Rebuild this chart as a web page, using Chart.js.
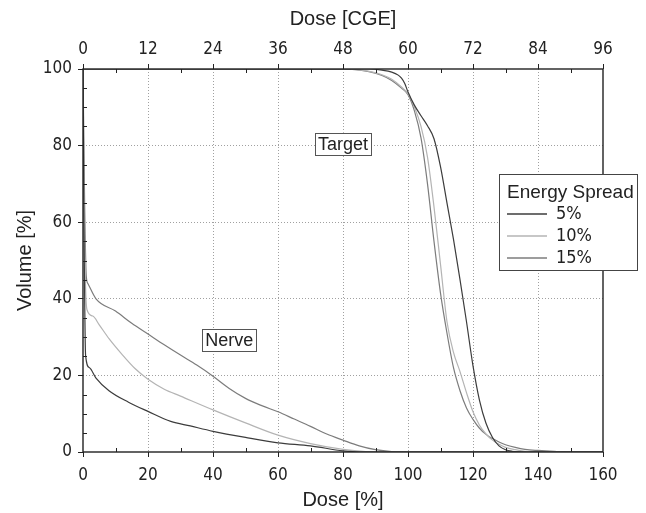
<!DOCTYPE html>
<html>
<head>
<meta charset="utf-8">
<script src="https://cdn.jsdelivr.net/npm/chart.js@4.4.0/dist/chart.umd.min.js"></script>
<style>
    html, body { margin: 0; padding: 0; background: #fff; }
</style>
</head>
<body>
<canvas id="myChart" width="646" height="513"></canvas>
<script>
// Dose [%] / Volume [%]
const targetDose5 = [0, 80, 88, 92, 95, 97, 98, 99, 100, 102, 104, 106, 108, 110, 112, 114, 116, 118, 120, 122, 124, 126, 128, 130, 132, 135, 160];
const targetVol5  = [100, 100, 100, 99.7, 99.2, 98.4, 97.6, 96.2, 94, 90.5, 87.8, 85.2, 81.8, 74.5, 65, 55.5, 45, 34, 22.5, 13.5, 7.5, 3.8, 1.6, 0.6, 0.2, 0, 0];

const targetDose10 = [0, 80, 84, 88, 92, 95, 98, 100, 102, 104, 106, 108, 110, 112, 114, 116, 118, 120, 122, 124, 126, 128, 130, 133, 136, 140, 160];
const targetVol10  = [100, 100, 99.8, 99.4, 98.5, 97.3, 95.3, 93.5, 90, 85, 77, 64, 49, 34, 26, 21, 15.5, 10.5, 7, 4.7, 3.1, 2, 1.2, 0.6, 0.2, 0, 0];

const targetDose15 = [0, 80, 84, 88, 92, 95, 98, 100, 102, 104, 106, 108, 110, 112, 114, 116, 118, 120, 122, 124, 126, 128, 130, 133, 136, 140, 145, 150, 160];
const targetVol15  = [100, 100, 99.8, 99.3, 98.3, 97, 95, 93.3, 89, 82, 70, 55, 41.5, 31, 22, 16, 11.5, 8.5, 6.2, 4.6, 3.5, 2.6, 1.9, 1.2, 0.7, 0.4, 0.15, 0, 0];

const nerveDose5 = [0, 0.3, 0.8, 2, 4, 8, 14, 20, 27, 33, 40, 50, 60, 70, 80, 85, 160];
const nerveVol5  = [100, 60, 25.2, 22, 19.3, 16, 13, 10.6, 8, 6.8, 5.4, 3.8, 2.4, 1.6, 0.3, 0, 0];

const nerveDose10 = [0, 0.5, 1.2, 3, 5, 8, 12, 16, 20, 25, 30, 40, 50, 60, 70, 80, 87, 92, 160];
const nerveVol10  = [100, 55, 37.2, 35.5, 33.2, 29.6, 25.5, 21.8, 19, 16.4, 14.6, 11, 7.6, 4.4, 2.2, 0.7, 0.1, 0, 0];

const nerveDose15 = [0, 0.5, 1, 1.5, 4, 10, 15, 20, 25, 30, 35, 40, 45, 50, 55, 60, 65, 70, 75, 80, 85, 90, 95, 100, 160];
const nerveVol15  = [100, 65, 46, 44, 40, 36.8, 33.6, 30.8, 28, 25.3, 22.7, 19.8, 16.6, 14, 12.1, 10.5, 8.6, 6.7, 4.7, 3.1, 1.6, 0.6, 0.1, 0, 0];

const spreadLabels = ['5%', '10%', '15%'];
const spreadColors = ['#3c3c3c', '#b4b4b4', '#7c7c7c'];

const cgeTicks = [0, 12, 24, 36, 48, 60, 72, 84, 96];

function toPoints(xs, ys) {
    return xs.map((x, i) => ({ x: x, y: ys[i] }));
}

function curve(xs, ys, k) {
    return {
        label: spreadLabels[k],
        data: toPoints(xs, ys),
        borderColor: spreadColors[k],
        borderWidth: 1.2,
        pointRadius: 0,
        cubicInterpolationMode: 'monotone',
        fill: false,
    };
}

const FONT = "'DejaVu Sans Condensed', 'Liberation Sans Narrow', 'Liberation Sans', Arial, sans-serif";
const FONT_REG = "'Liberation Sans', Arial, sans-serif";

function boxLabel(ctx, text, cx, cy) {
    ctx.font = "18px " + FONT_REG;
    const w = ctx.measureText(text).width + 6;
    const h = 22;
    ctx.fillStyle = '#fff';
    ctx.fillRect(cx - w / 2, cy - h / 2, w, h);
    ctx.strokeStyle = '#555';
    ctx.lineWidth = 1;
    ctx.strokeRect(Math.round(cx - w / 2) + 0.5, Math.round(cy - h / 2) + 0.5, Math.round(w), h);
    ctx.fillStyle = '#222';
    ctx.textAlign = 'center';
    ctx.textBaseline = 'middle';
    ctx.fillText(text, cx, cy + 1);
}

const decorations = {
    id: 'decorations',
    afterDatasetsDraw(chart) {
        const { ctx, chartArea: a, scales } = chart;
        const ln = (x1, y1, x2, y2) => { ctx.beginPath(); ctx.moveTo(x1, y1); ctx.lineTo(x2, y2); ctx.stroke(); };
        ctx.save();
        ctx.strokeStyle = '#222';
        ctx.lineWidth = 1;
        // minor ticks pointing inward
        for (let v = 10; v < 160; v += 20) {
            const px = Math.round(scales.x.getPixelForValue(v)) + 0.5;
            ln(px, a.bottom, px, a.bottom - 4);
            ln(px, a.top, px, a.top + 4);
        }
        for (let v = 5; v < 100; v += 5) {
            if (v % 20 === 0) continue;
            const py = Math.round(scales.y.getPixelForValue(v)) + 0.5;
            ln(a.left, py, a.left + 4, py);
        }
        // frame
        ctx.lineWidth = 1.4;
        ctx.strokeRect(a.left, a.top, a.right - a.left, a.bottom - a.top);

        // structure labels
        boxLabel(ctx, 'Target', scales.x.getPixelForValue(80), scales.y.getPixelForValue(80.5));
        boxLabel(ctx, 'Nerve', scales.x.getPixelForValue(45), scales.y.getPixelForValue(29.2));

        // legend
        const lx = a.right - 104, ly = a.top + 105, lw = 138, lh = 96;
        ctx.fillStyle = '#fff';
        ctx.fillRect(lx, ly, lw, lh);
        ctx.strokeStyle = '#444';
        ctx.lineWidth = 1;
        ctx.strokeRect(lx + 0.5, ly + 0.5, lw, lh);
        ctx.fillStyle = '#222';
        ctx.textAlign = 'left';
        ctx.textBaseline = 'middle';
        ctx.font = "19px " + FONT_REG;
        ctx.fillText('Energy Spread', lx + 8, ly + 19);
        ctx.font = "18px " + FONT;
        for (let k = 0; k < spreadLabels.length; k++) {
            const y = ly + 40 + k * 22;
            ctx.strokeStyle = spreadColors[k];
            ctx.lineWidth = 1.3;
            ln(lx + 8, y, lx + 48, y);
            ctx.fillStyle = '#222';
            ctx.fillText(spreadLabels[k], lx + 57, y);
        }
        ctx.restore();
    }
};

const config = {
    type: 'line',
    data: {
        datasets: [
            curve(targetDose5, targetVol5, 0),
            curve(targetDose10, targetVol10, 1),
            curve(targetDose15, targetVol15, 2),
            curve(nerveDose5, nerveVol5, 0),
            curve(nerveDose10, nerveVol10, 1),
            curve(nerveDose15, nerveVol15, 2),
        ]
    },
    options: {
        responsive: false,
        animation: false,
        devicePixelRatio: 1,
        layout: { padding: { left: 0, right: 43, top: 0, bottom: 0 } },
        plugins: {
            legend: { display: false },
            tooltip: { enabled: false },
        },
        scales: {
            x: {
                type: 'linear',
                position: 'bottom',
                min: 0,
                max: 160,
                afterFit: s => { s.height = 61; },
                ticks: { stepSize: 20, color: '#222', padding: 8, font: { family: FONT, size: 17 }, maxRotation: 0 },
                grid: { color: ctx => (ctx.tick && ctx.tick.value > 0 && ctx.tick.value < 160) ? '#a0a0a0' : 'rgba(0,0,0,0)', lineWidth: 1, drawTicks: true, tickLength: 5, tickColor: '#222' },
                border: { display: false, dash: [1, 2] },
                title: { display: true, text: 'Dose [%]', color: '#222', font: { family: FONT_REG, size: 20 }, padding: { top: 0, bottom: 1 } },
            },
            x2: {
                type: 'linear',
                position: 'top',
                min: 0,
                max: 96,
                afterFit: s => { s.height = 69; },
                afterBuildTicks: s => { s.ticks = cgeTicks.map(v => ({ value: v })); },
                ticks: { color: '#222', padding: 4, font: { family: FONT, size: 17 }, maxRotation: 0 },
                grid: { drawOnChartArea: false, drawTicks: true, tickLength: 5, tickColor: '#222' },
                border: { display: false },
                title: { display: true, text: 'Dose [CGE]', color: '#222', font: { family: FONT_REG, size: 20 }, padding: { top: 7, bottom: 0 } },
            },
            y: {
                type: 'linear',
                min: 0,
                max: 100,
                afterFit: s => { s.width = 83; },
                ticks: { stepSize: 20, color: '#222', padding: 6, font: { family: FONT, size: 17 } },
                grid: { color: ctx => (ctx.tick && ctx.tick.value > 0 && ctx.tick.value < 100) ? '#a0a0a0' : 'rgba(0,0,0,0)', lineWidth: 1, drawTicks: true, tickLength: 5, tickColor: '#222' },
                border: { display: false, dash: [1, 2] },
                title: { display: true, text: 'Volume [%]', color: '#222', font: { family: FONT_REG, size: 20 }, padding: { top: 13, bottom: 0 } },
            }
        }
    },
    plugins: [decorations]
};

const myChart = new Chart(document.getElementById('myChart'), config);
</script>
</body>
</html>
